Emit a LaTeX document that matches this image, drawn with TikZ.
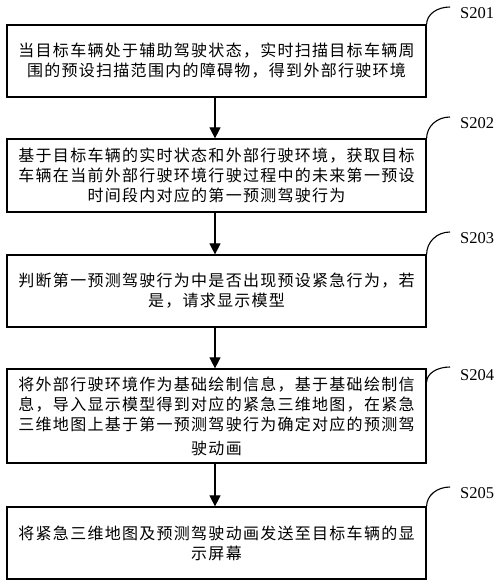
\documentclass[tikz,border=0pt]{standalone}
\usepackage{fontspec}
\usetikzlibrary{arrows.meta}
\newfontfamily\cjk[LetterSpace=8]{Noto Sans CJK SC}
\newfontfamily\labfont{Liberation Serif}
\begin{document}
\begin{tikzpicture}[x=1pt,y=-1pt,
  stepbox/.style={draw=black,line width=1.2pt,minimum width=419pt,inner sep=0pt,align=center,
    font=\cjk\fontsize{16}{20}\selectfont,text=black},
  arr/.style={-{Triangle[width=11pt,length=11pt]},line width=1.1pt},
  steplabel/.style={anchor=west,inner sep=0pt,font=\labfont\fontsize{16.5}{18}\selectfont},
  hook/.style={line width=1.1pt}]
\useasboundingbox (0,0) rectangle (500,586);
\fill[white] (0,0) rectangle (500,586);

\node[stepbox,minimum height=72pt] (b1) at (216.5,61)
  {当目标车辆处于辅助驾驶状态，实时扫描目标车辆周\\围的预设扫描范围内的障碍物，得到外部行驶环境};
\node[stepbox,minimum height=73pt] (b2) at (216.5,175.5)
  {基于目标车辆的实时状态和外部行驶环境，获取目标\\车辆在当前外部行驶环境行驶过程中的未来第一预设\\时间段内对应的第一预测驾驶行为};
\node[stepbox,minimum height=72pt] (b3) at (216.5,291)
  {判断第一预测驾驶行为中是否出现预设紧急行为，若\\是，请求显示模型};
\node[stepbox,minimum height=94pt] (b4) at (216.5,416)
  {将外部行驶环境作为基础绘制信息，基于基础绘制信\\息，导入显示模型得到对应的紧急三维地图，在紧急\\三维地图上基于第一预测驾驶行为确定对应的预测驾\\[4pt]驶动画};
\node[stepbox,minimum height=72pt] (b5) at (216.5,543)
  {将紧急三维地图及预测驾驶动画发送至目标车辆的显\\示屏幕};

\draw[arr] ([xshift=-1.5pt]b1.south) -- ([xshift=-1.5pt]b2.north);
\draw[arr] ([xshift=-1.5pt]b2.south) -- ([xshift=-1.5pt]b3.north);
\draw[arr] ([xshift=-1.5pt]b3.south) -- ([xshift=-1.5pt]b4.north);
\draw[arr] ([xshift=-1.5pt]b4.south) -- ([xshift=-1.5pt]b5.north);

\node[steplabel] (l1) at (460,13) {S201};
\node[steplabel] (l2) at (460,123) {S202};
\node[steplabel] (l3) at (460,238) {S203};
\node[steplabel] (l4) at (460,375) {S204};
\node[steplabel] (l5) at (460,493) {S205};

\coordinate (h1) at (450,7);
\coordinate (h2) at (450,117);
\coordinate (h3) at (450,232);
\coordinate (h4) at (450,367);
\coordinate (h5) at (450,487);

\draw[hook] (b1.north east) .. controls +(0,-10) and +(-13,0) .. (h1);
\draw[hook] (b2.north east) .. controls +(0,-12) and +(-13,0) .. (h2);
\draw[hook] (b3.north east) .. controls +(0,-12.5) and +(-13,0) .. (h3);
\draw[hook] ([yshift=-14pt]b4.north east) .. controls +(0,-9) and +(-13,0) .. (h4);
\draw[hook] (b5.north east) .. controls +(0,-11) and +(-13,0) .. (h5);
\end{tikzpicture}
\end{document}
